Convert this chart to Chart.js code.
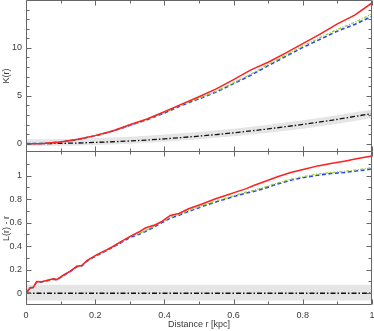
<!DOCTYPE html>
<html><head><meta charset="utf-8">
<script src="https://cdn.jsdelivr.net/npm/chart.js@4.4.1/dist/chart.umd.min.js"></script>
<style>html,body{margin:0;padding:0;background:#fff}#wrap{width:374px;height:331px;position:relative}</style>
</head><body><div id="wrap"><canvas id="c" width="374" height="331"></canvas></div>
<script>
// ---- Top panel: K(r) ----
const rK = [0,0.05,0.1,0.15,0.2,0.25,0.3,0.35,0.4,0.45,0.5,0.55,0.6,0.65,0.7,0.75,0.8,0.85,0.9,0.95,1.0];
const kObserved = [0,0.03,0.18,0.45,0.84,1.32,1.97,2.57,3.35,4.13,4.9,5.72,6.69,7.7,8.5,9.45,10.45,11.43,12.5,13.42,14.69];
const kBlue     = [0,0.03,0.17,0.44,0.82,1.3,1.9,2.5,3.2,4.0,4.68,5.4,6.27,7.15,8.15,9.1,10.05,10.9,11.75,12.45,13.3];
const kGreen    = [0,0.03,0.18,0.45,0.84,1.32,1.93,2.54,3.25,4.06,4.75,5.48,6.36,7.25,8.27,9.23,10.2,11.07,11.94,12.67,13.55];
const kCSR      = [0,0.008,0.03,0.07,0.13,0.2,0.28,0.38,0.5,0.64,0.79,0.95,1.13,1.33,1.54,1.77,2.01,2.27,2.54,2.84,3.14];
const kEnvHi    = [0.45,0.46,0.48,0.52,0.58,0.65,0.73,0.83,0.95,1.08,1.23,1.39,1.57,1.77,1.98,2.21,2.45,2.71,2.98,3.27,3.55];
const kEnvLo    = [-0.25,-0.24,-0.22,-0.19,-0.14,-0.08,0.0,0.09,0.2,0.33,0.46,0.61,0.77,0.95,1.14,1.35,1.57,1.82,2.08,2.36,2.68];

// ---- Bottom panel: L(r) - r ----
const rL = [0,0.012,0.021,0.031,0.045,0.06,0.079,0.089,0.108,0.128,0.147,0.161,0.176,0.205,0.234,0.25,0.272,0.301,0.326,0.345,0.374,0.393,0.417,0.442,0.47,0.509,0.548,0.577,0.606,0.635,0.662,0.688,0.727,0.765,0.804,0.843,0.881,0.92,0.959,1.0];
const lObserved = [0,0.046,0.05,0.10,0.097,0.108,0.122,0.116,0.153,0.187,0.229,0.235,0.277,0.328,0.37,0.395,0.435,0.483,0.52,0.554,0.582,0.61,0.661,0.678,0.718,0.758,0.803,0.83,0.859,0.887,0.92,0.947,0.989,1.025,1.054,1.082,1.102,1.122,1.144,1.167];
const lBlue     = [0,0.044,0.048,0.097,0.095,0.105,0.12,0.114,0.15,0.184,0.225,0.232,0.272,0.322,0.362,0.39,0.425,0.475,0.5,0.525,0.568,0.6,0.638,0.662,0.695,0.737,0.775,0.8,0.826,0.85,0.868,0.89,0.928,0.96,0.984,1.003,1.017,1.026,1.04,1.056];
const lGreen    = [0,0.045,0.049,0.098,0.096,0.107,0.121,0.116,0.152,0.186,0.227,0.234,0.275,0.326,0.366,0.394,0.43,0.48,0.506,0.531,0.574,0.607,0.645,0.669,0.703,0.745,0.783,0.808,0.834,0.858,0.877,0.899,0.937,0.969,0.993,1.012,1.026,1.036,1.05,1.067];
const rBand = [0,1];
const lCSR   = [0,0];
const lEnvHi = [0.072,0.072];
const lEnvLo = [-0.062,-0.062];

// ---- Axes ----
const xTicks = [0,0.2,0.4,0.6,0.8,1];
const xMinor = [0,0.1,0.2,0.3,0.4,0.5,0.6,0.7,0.8,0.9,1];
const kTicks = [0,5,10];
const kMinor = [0,1,2,3,4,5,6,7,8,9,10,11,12,13,14];
const lTicks = [0,0.2,0.4,0.6,0.8,1];
const lMinor = [0,0.1,0.2,0.3,0.4,0.5,0.6,0.7,0.8,0.9,1,1.1];
const xLabel = 'Distance r [kpc]';
const kLabel = 'K(r)';
const lLabel = 'L(r) - r';

const pts = (xs, ys) => xs.map((x, i) => ({x, y: ys[i]}));
const FONT = {family: '"Liberation Sans", Arial, sans-serif', size: 9};
const TXT = '#3a3a3a';
const AX = '#666666';

const frame = {
  id: 'frame',
  afterDatasetsDraw(chart) {
    const ctx = chart.ctx, xs = chart.scales.x, yk = chart.scales.yK, yl = chart.scales.yL;
    ctx.save();
    ctx.strokeStyle = AX; ctx.lineWidth = 1;
    const top = Math.round(yk.top) + 0.5;
    const mid = Math.round(yk.bottom) - 0.5;
    const bot = Math.round(yl.bottom) - 0.5;
    const panels = [[yk, kTicks, kMinor, top, mid], [yl, lTicks, lMinor, mid, bot]];
    const L = Math.round(xs.left) + 0.5, R = Math.round(xs.right) - 0.5;
    panels.forEach(([sc, maj, mnr, T, B]) => {
      ctx.beginPath();
      ctx.rect(L, T, R - L, B - T);
      xMinor.forEach(v => {
        const len = xTicks.some(t => Math.abs(t - v) < 1e-9) ? 5 : 3;
        const p = Math.round(xs.getPixelForValue(v)) + 0.5;
        ctx.moveTo(p, T); ctx.lineTo(p, T + len);
        ctx.moveTo(p, B); ctx.lineTo(p, B - len);
      });
      mnr.forEach(v => {
        const len = maj.some(t => Math.abs(t - v) < 1e-9) ? 5 : 3;
        const p = Math.round(sc.getPixelForValue(v)) + 0.5;
        ctx.moveTo(L, p); ctx.lineTo(L + len, p);
        ctx.moveTo(R, p); ctx.lineTo(R - len, p);
      });
      ctx.stroke();
    });
    ctx.restore();
  }
};

const line = (label, xs, ys, axis, color, dash, width, order) => ({
  label, data: pts(xs, ys), yAxisID: axis, borderColor: color, borderDash: dash,
  borderWidth: width, pointRadius: 0, tension: 0, fill: false, order
});
const band = (label, xs, ys, axis, fill) => ({
  label, data: pts(xs, ys), yAxisID: axis, borderWidth: 0, borderColor: 'rgba(0,0,0,0)',
  backgroundColor: '#e5e5e5', pointRadius: 0, tension: 0, fill, order: 10
});

const RED = '#ff1f1f', BLUE = '#2846f0', GREEN = '#9acd32', BLACK = '#111111';
const noPad = s => { s.paddingTop = 0; s.paddingBottom = 0; s.paddingLeft = 0; s.paddingRight = 0; };

new Chart(document.getElementById('c'), {
  type: 'line',
  data: {
    datasets: [
      line('K observed', rK, kObserved, 'yK', RED, [], 1.5, 1),
      line('K green', rK, kGreen, 'yK', GREEN, [3, 1.5, 1, 1.5], 1.3, 2),
      line('K blue', rK, kBlue, 'yK', BLUE, [4, 2.5], 1.6, 3),
      line('K CSR', rK, kCSR, 'yK', BLACK, [5, 2, 1.5, 2], 1.3, 4),
      band('K env hi', rK, kEnvHi, 'yK', '+1'),
      band('K env lo', rK, kEnvLo, 'yK', false),
      line('L observed', rL, lObserved, 'yL', RED, [], 1.5, 1),
      line('L green', rL, lGreen, 'yL', GREEN, [3, 1.5, 1, 1.5], 1.3, 2),
      line('L blue', rL, lBlue, 'yL', BLUE, [4, 2.5], 1.6, 3),
      line('L CSR', rBand, lCSR, 'yL', BLACK, [5, 2, 1.5, 2], 1.3, 4),
      band('L env hi', rBand, lEnvHi, 'yL', '+1'),
      band('L env lo', rBand, lEnvLo, 'yL', false)
    ]
  },
  options: {
    responsive: false, animation: false,
    layout: {padding: {top: 0, right: 2, left: 0, bottom: 0}},
    plugins: {legend: {display: false}, tooltip: {enabled: false}},
    scales: {
      x: {
        type: 'linear', min: 0, max: 1,
        afterBuildTicks: s => { s.ticks = xTicks.map(v => ({value: v})); },
        afterFit: s => { s.height = 26; noPad(s); },
        grid: {display: false, drawTicks: false}, border: {display: false},
        ticks: {padding: 5, font: FONT, color: TXT, maxRotation: 0, autoSkip: false,
                callback: v => String(+v.toFixed(2))},
        title: {display: true, text: xLabel, font: FONT, color: TXT, padding: {top: 0, bottom: 1}}
      },
      yL: {
        type: 'linear', position: 'left', stack: 'panels', stackWeight: 153, min: -0.1, max: 1.2,
        afterBuildTicks: s => { s.ticks = lTicks.map(v => ({value: v})); },
        afterFit: s => { s.width = 26; noPad(s); },
        grid: {display: false, drawTicks: false}, border: {display: false},
        ticks: {padding: 4, font: FONT, color: TXT, autoSkip: false, callback: v => String(+v.toFixed(2))},
        title: {display: true, text: lLabel, font: FONT, color: TXT, padding: {top: 1, bottom: 0}}
      },
      yK: {
        type: 'linear', position: 'left', stack: 'panels', stackWeight: 152, min: -0.87, max: 15,
        afterBuildTicks: s => { s.ticks = kTicks.map(v => ({value: v})); },
        afterFit: s => { s.width = 26; noPad(s); },
        grid: {display: false, drawTicks: false}, border: {display: false},
        ticks: {padding: 4, font: FONT, color: TXT, autoSkip: false, callback: v => String(v)},
        title: {display: true, text: kLabel, font: FONT, color: TXT, padding: {top: 1, bottom: 0}}
      }
    }
  },
  plugins: [frame]
});
</script>
</body></html>
